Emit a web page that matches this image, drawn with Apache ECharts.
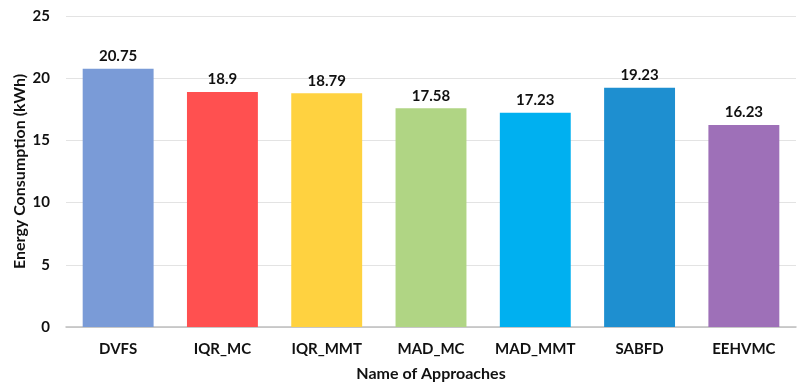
<!DOCTYPE html>
<html>
<head>
<meta charset="utf-8">
<script src="https://cdn.jsdelivr.net/npm/echarts@6/dist/echarts.min.js"></script>
<style>
  html, body { margin: 0; padding: 0; background: #fff; }
  #chart { width: 802px; height: 384px; }
</style>
</head>
<body>
<div id="chart"></div>
<script>
// Energy consumption per VM consolidation approach
const categories = ['DVFS', 'IQR_MC', 'IQR_MMT', 'MAD_MC', 'MAD_MMT', 'SABFD', 'EEHVMC'];
const energyValues = [20.75, 18.9, 18.79, 17.58, 17.23, 19.23, 16.23];
const barColors = ['#7a9bd7', '#ff5050', '#ffd240', '#b0d584', '#00b0f0', '#1e8fd0', '#9e70b8'];
const yTicks = { min: 0, max: 25, interval: 5 };

const font = 'Lato, "Open Sans", sans-serif';
const textStyle = { fontFamily: font, fontWeight: 'bold', fontSize: 15, color: '#111' };
const nameStyle = Object.assign({}, textStyle, { fontSize: 16 });
const chart = echarts.init(document.getElementById('chart'));
chart.setOption({
  animation: false,
  grid: { left: 66, right: 6, top: 16, bottom: 57, containLabel: false, outerBoundsMode: 'none' },
  xAxis: {
    type: 'category',
    data: categories,
    name: 'Name of Approaches',
    nameLocation: 'middle',
    nameGap: 39,
    nameMoveOverlap: false,
    nameTextStyle: nameStyle,
    axisLine: { lineStyle: { color: '#bfbfbf', width: 1.5 } },
    axisTick: { show: false },
    axisLabel: Object.assign({ margin: 15, interval: 0, hideOverlap: false }, textStyle)
  },
  yAxis: {
    type: 'value',
    min: yTicks.min,
    max: yTicks.max,
    interval: yTicks.interval,
    name: 'Energy Consumption (kWh)',
    nameLocation: 'middle',
    nameGap: 38,
    nameMoveOverlap: false,
    nameTextStyle: nameStyle,
    axisLine: { show: false },
    axisTick: { show: false },
    splitLine: { lineStyle: { color: '#e3e3e3', width: 1 } },
    axisLabel: Object.assign({ margin: 16 }, textStyle)
  },
  series: [{
    type: 'bar',
    data: energyValues.map((v, i) => ({ value: v, itemStyle: { color: barColors[i] } })),
    barWidth: '68%',
    label: Object.assign({ show: true, position: 'top', distance: 5 }, textStyle)
  }]
});
</script>
</body>
</html>
